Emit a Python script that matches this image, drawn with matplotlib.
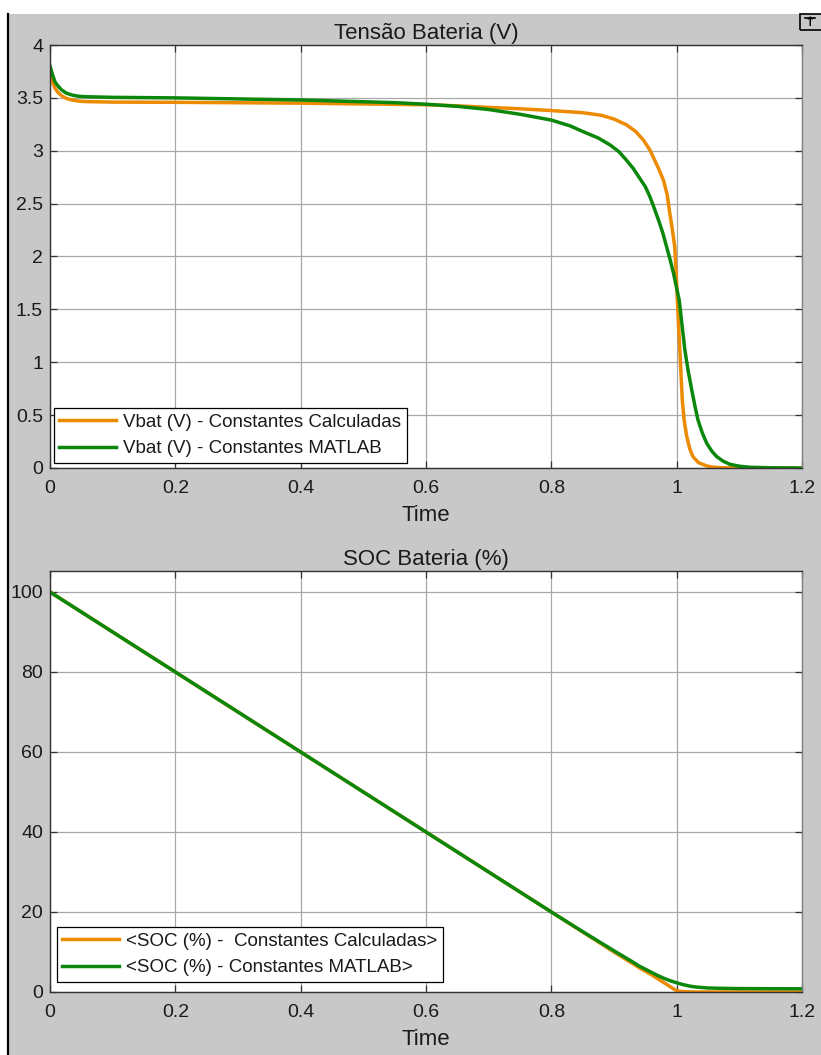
import matplotlib
matplotlib.use("Agg")
import matplotlib.pyplot as plt
from matplotlib.patches import Rectangle
from matplotlib.lines import Line2D
from matplotlib.ticker import FuncFormatter

plt.rcParams['font.family'] = ['Liberation Sans', 'DejaVu Sans']

# ---- data ----
t_vbat_calc = [0, 0.004, 0.008, 0.013, 0.0186, 0.026, 0.035, 0.045, 0.056, 0.1, 0.2, 0.4,
               0.6, 0.65, 0.7, 0.75, 0.8, 0.85, 0.88, 0.9, 0.92, 0.935, 0.947, 0.957,
               0.965, 0.972, 0.979, 0.985, 0.989, 0.993, 0.997, 0.999, 1.001, 1.003,
               1.005, 1.007, 1.009, 1.012, 1.016, 1.021, 1.026, 1.035, 1.048, 1.06,
               1.075, 1.1, 1.2]
vbat_calc = [3.73, 3.65, 3.59, 3.55, 3.52, 3.495, 3.48, 3.47, 3.465, 3.46, 3.458, 3.45,
             3.435, 3.425, 3.41, 3.397, 3.38, 3.36, 3.335, 3.30, 3.245, 3.18, 3.10, 3.01,
             2.91, 2.82, 2.72, 2.58, 2.41, 2.26, 2.09, 1.86, 1.60, 1.36,
             1.12, 0.88, 0.64, 0.45, 0.30, 0.18, 0.107, 0.05, 0.019, 0.007,
             0.002, 0.0, 0.0]

t_vbat_matlab = [0, 0.004, 0.008, 0.013, 0.0186, 0.026, 0.035, 0.045, 0.056, 0.1, 0.2, 0.4,
                 0.55, 0.6, 0.65, 0.7, 0.75, 0.8, 0.83, 0.851, 0.875, 0.894, 0.908, 0.92,
                 0.931, 0.941, 0.95, 0.957, 0.964, 0.971, 0.978, 0.984, 0.99, 0.995, 1.0,
                 1.004, 1.008, 1.013, 1.018, 1.024, 1.029, 1.034, 1.041, 1.048, 1.056,
                 1.064, 1.074, 1.085, 1.1, 1.117, 1.15, 1.2]
vbat_matlab = [3.80, 3.72, 3.65, 3.61, 3.575, 3.545, 3.527, 3.516, 3.511, 3.505, 3.50, 3.48,
               3.455, 3.44, 3.42, 3.39, 3.345, 3.29, 3.235, 3.18, 3.12, 3.054, 2.99, 2.91,
               2.83, 2.74, 2.66, 2.57, 2.46, 2.345, 2.22, 2.09, 1.96, 1.84, 1.70,
               1.59, 1.38, 1.12, 0.93, 0.74, 0.59, 0.454, 0.33, 0.233, 0.16,
               0.107, 0.065, 0.035, 0.017, 0.007, 0.002, 0.0]

t_soc = [0, 0.2, 0.4, 0.6, 0.8, 0.85, 0.9, 0.93, 0.94, 0.96, 0.97, 0.98, 0.99, 1.0,
         1.01, 1.02, 1.03, 1.05, 1.07, 1.1, 1.2]
soc_calc = [100, 80, 60, 40, 20, 15, 10, 7.1, 6.1, 4.3, 3.3, 2.3, 1.3, 0.3,
            0.1, 0.05, 0, 0, 0, 0, 0]
soc_matlab = [100, 80, 60, 40, 20, 15.1, 10.3, 7.5, 6.5, 4.9, 4.1, 3.4, 2.8, 2.3,
              1.85, 1.5, 1.25, 1.0, 0.92, 0.85, 0.8]

labels_top = ['Vbat (V) - Constantes Calculadas', 'Vbat (V) - Constantes MATLAB']
labels_bot = ['<SOC (%) -  Constantes Calculadas>', '<SOC (%) - Constantes MATLAB>']

ORANGE = '#EC8A00'
GREEN = '#0B870B'
GREY_BG = '#c8c8c8'
TXT = '#1a1a1a'

W, H = 821, 1055
fig = plt.figure(figsize=(W / 100, H / 100), dpi=100, facecolor='white')


def fx(px):
    return px / W


def fy(py):
    return 1 - py / H


# grey panel + black left border (simulink scope look)
fig.add_artist(Rectangle((fx(9), 0), 1 - fx(9), fy(14), transform=fig.transFigure,
                         facecolor=GREY_BG, edgecolor='none', zorder=0))
fig.add_artist(Line2D([fx(8), fx(8)], [0, fy(14)], transform=fig.transFigure,
                      color='black', lw=1.6))
# little undock icon top right
fig.add_artist(Rectangle((fx(800), fy(30)), fx(25), fy(14) - fy(30), transform=fig.transFigure,
                         facecolor='none', edgecolor='black', lw=1.2))
fig.add_artist(Line2D([fx(805), fx(815)], [fy(18), fy(18)], transform=fig.transFigure,
                      color='black', lw=1.2))
fig.text(fx(810), fy(23), '\u2191', ha='center', va='center', fontsize=9,
         fontweight='bold', family=['DejaVu Sans'])

fmt = FuncFormatter(lambda v, p: f'{v:g}')


def style(ax, title, ylim, yticks):
    ax.set_facecolor('white')
    ax.set_xlim(0, 1.2)
    ax.set_ylim(*ylim)
    ax.set_xticks([0, 0.2, 0.4, 0.6, 0.8, 1.0, 1.2])
    ax.set_yticks(yticks)
    ax.xaxis.set_major_formatter(fmt)
    ax.yaxis.set_major_formatter(fmt)
    ax.grid(True, color='#a8a8a8', lw=0.9)
    ax.set_axisbelow(True)
    ax.tick_params(direction='in', top=True, right=True, length=5, width=0.9,
                   color='#333333', labelsize=14, labelcolor=TXT)
    ax.tick_params(axis='x', pad=8.5)
    ax.tick_params(axis='y', pad=5)
    for s in ['left', 'bottom', 'top']:
        ax.spines[s].set_color('#333333')
        ax.spines[s].set_linewidth(1.0)
    ax.spines['right'].set_color('#808080')
    ax.spines['right'].set_linewidth(1.0)
    ax.set_title(title, fontsize=16, color=TXT, pad=4.5)
    ax.set_xlabel('Time', fontsize=16, color=TXT, labelpad=6)


def add_legend(ax, anchor):
    leg = ax.legend(loc='lower left', bbox_to_anchor=anchor, borderaxespad=0,
                    fontsize=13.5, fancybox=False, framealpha=1, edgecolor='black',
                    handlelength=3.0, handletextpad=0.4, labelspacing=0.5,
                    borderpad=0.3)
    leg.get_frame().set_linewidth(0.9)
    for txt in leg.get_texts():
        txt.set_color(TXT)


# top: battery voltage
ax1 = fig.add_axes([fx(50), fy(468), fx(802) - fx(50), fy(45) - fy(468)])
ax1.plot(t_vbat_calc, vbat_calc, color=ORANGE, lw=2.5, label=labels_top[0])
ax1.plot(t_vbat_matlab, vbat_matlab, color=GREEN, lw=2.5, label=labels_top[1])
style(ax1, 'Tensão Bateria (V)', (0, 4), [0, 0.5, 1, 1.5, 2, 2.5, 3, 3.5, 4])
add_legend(ax1, (0.005, 0.012))

# bottom: state of charge
ax2 = fig.add_axes([fx(50), fy(992), fx(802) - fx(50), fy(571) - fy(992)])
ax2.plot(t_soc, soc_calc, color=ORANGE, lw=2.5, label=labels_bot[0])
ax2.plot(t_soc, soc_matlab, color=GREEN, lw=2.5, label=labels_bot[1])
style(ax2, 'SOC Bateria (%)', (0, 105.25), [0, 20, 40, 60, 80, 100])
add_legend(ax2, (0.009, 0.024))

fig.savefig('out.png', dpi=100, facecolor=fig.get_facecolor())
